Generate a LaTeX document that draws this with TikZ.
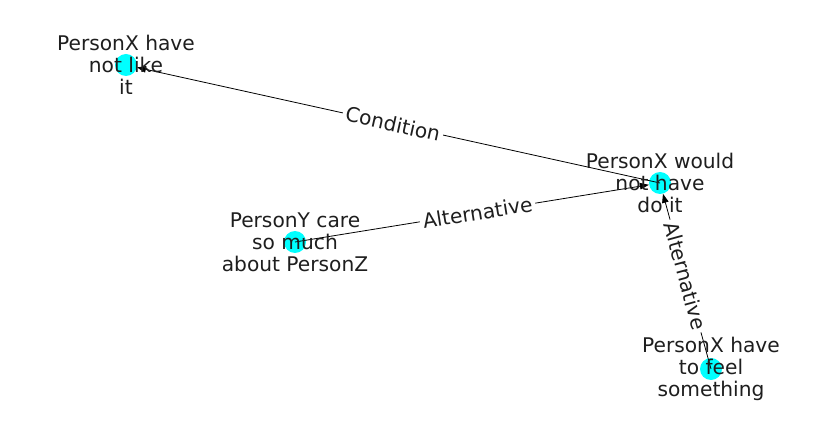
\documentclass[tikz,border=0pt]{standalone}
\usepackage{fontspec}
\setmainfont{DejaVu Sans}
\usetikzlibrary{arrows.meta,calc}
\definecolor{nodecyan}{RGB}{0,255,255}
\definecolor{txt}{RGB}{30,30,30}
\begin{document}
\begin{tikzpicture}[x=1pt,y=1pt,
  dot/.style={circle,fill=nodecyan,minimum size=22pt,inner sep=0pt},
  lbl/.style={align=center,font=\fontsize{20.2}{22}\selectfont,text=txt,inner sep=0pt},
  elbl/.style={font=\fontsize{20.2}{22}\selectfont,text=txt,fill=white,inner sep=3pt,rounded corners=3pt},
  edge/.style={line width=0.8pt,-{Triangle[length=9pt,width=6.5pt]}}]
\useasboundingbox (0,0) rectangle (837,434);
\node[dot] (a) at (126,369) {};
\node[dot] (b) at (660,251) {};
\node[dot] (c) at (295,192) {};
\node[dot] (d) at (711,65) {};
\draw[edge] (b.center) -- (a);
\draw[edge] (c.center) -- (b);
\draw[edge] (d.center) -- (b);
\node[lbl] (ta) at (a) {PersonX have\\not like\\it};
\node[lbl] (tb) at (b) {PersonX would\\not have\\do it};
\node[lbl] (tc) at (c) {PersonY care\\so much\\about PersonZ};
\node[lbl] (td) at (d) {PersonX have\\to feel\\something};
\node[elbl,rotate=-12.46] (e1) at ($(a)!0.5!(b)$) {Condition};
\node[elbl,rotate=9.18] (e2) at ($(b)!0.5!(c)$) {Alternative};
\node[elbl,rotate=-74.67] (e3) at ($(b)!0.5!(d)$) {Alternative};
\end{tikzpicture}
\end{document}
